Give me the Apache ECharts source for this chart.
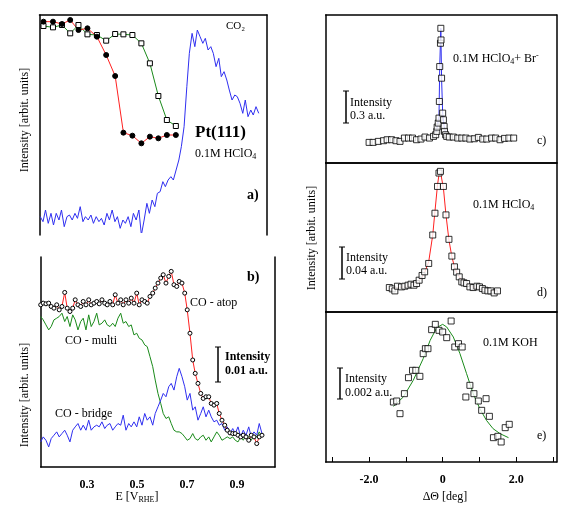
<!DOCTYPE html>
<html><head><meta charset="utf-8">
<script src="https://cdn.jsdelivr.net/npm/echarts@6/dist/echarts.min.js"></script>
<style>html,body{margin:0;background:#fff}#c{width:575px;height:529px}</style>
</head><body><div id="c"></div>
<script>
// panel a: CO2 (blue), CO atop (red dots), CO multi (green squares)
var eA = [.112,.123,.133,.144,.155,.165,.176,.187,.197,.208,.219,.229,.240,.251,.261,.272,.283,.293,.304,.315,.325,.336,.347,.357,.368,.379,.389,.400,.411,.421,.432,.443,.453,.464,.475,.485,.496,.507,.517,.528,.539,.549,.560,.571,.581,.592,.603,.613,.624,.635,.645,.656,.667,.677,.688,.699,.709,.720,.731,.741,.752,.763,.773,.784,.795,.805,.816,.827,.837,.848,.859,.869,.880,.891,.901,.912,.923,.933,.944,.955,.965,.976,.987];
var co2A = [55,40,75,35,65,30,65,45,75,25,55,60,45,65,50,85,40,55,45,60,35,55,40,50,30,65,45,75,40,55,20,45,35,55,25,65,45,75,0,45,95,65,105,85,125,130,160,145,165,175,165,195,225,265,325,445,545,605,565,615,595,575,590,555,565,545,505,530,475,490,465,435,405,420,415,395,365,405,355,375,360,385,365];
var eDots = [.125,.163,.199,.232,.265,.301,.339,.376,.412,.445,.481,.517,.551,.585,.619,.655];
var atopA = [640,640,633,645,615,620,595,540,477,307,298,275,295,290,300,300];
var multiA = [627,623,630,605,630,602,600,583,603,602,600,575,515,417,345,327];

// panel b: IR band intensities
var eB = [.115,.125,.136,.147,.157,.168,.179,.189,.200,.211,.221,.232,.243,.253,.264,.275,.285,.296,.307,.317,.328,.339,.349,.360,.371,.381,.392,.403,.413,.424,.435,.445,.456,.467,.477,.488,.499,.509,.520,.531,.541,.552,.563,.573,.584,.595,.605,.616,.627,.637,.648,.659,.669,.680,.691,.701,.712,.723,.733,.744,.755,.765,.776,.787,.797,.808,.819,.829,.840,.851,.861,.872,.883,.893,.904,.915,.925,.936,.947,.957,.968,.979,.989,1.000];
var atopB = [485,490,488,490,480,475,485,470,480,522,475,465,475,500,485,480,495,485,500,485,490,495,488,500,490,485,495,485,515,490,500,485,500,490,505,490,520,485,500,495,490,510,520,535,550,565,575,550,570,585,545,540,555,550,520,470,400,320,280,250,220,205,210,210,190,185,190,160,140,125,110,102,100,100,95,90,95,90,80,95,90,70,90,95];
var multiB = [450,440,425,410,420,440,445,450,460,435,450,420,455,440,410,435,445,410,455,420,435,460,425,430,440,425,420,430,420,445,460,430,435,420,425,395,400,385,380,365,360,330,300,260,220,190,160,145,150,130,110,105,105,100,90,80,85,100,85,80,90,95,80,90,75,90,105,95,80,85,90,85,90,80,75,90,80,95,90,80,95,90,105,90];
var bridgeB = [75,90,80,60,85,95,105,90,100,110,95,75,110,120,130,110,125,110,140,110,120,125,120,135,115,125,130,110,120,130,125,155,110,130,120,135,120,150,125,160,140,150,125,160,180,200,220,210,240,250,230,270,295,270,240,200,220,170,180,140,160,180,150,170,150,135,140,125,130,110,120,100,115,100,120,90,110,95,120,90,105,95,130,100];

// panel c: 0.1M HClO4 + Br-
var thC = [-2.0,-1.89,-1.75,-1.61,-1.51,-1.39,-1.27,-1.16,-1.04,-0.93,-0.82,-0.71,-0.59,-0.48,-0.36,-0.25,-0.19,-0.16,-0.15,-0.12,-0.10,-0.09,-0.08,-0.06,-0.05,-0.045,-0.03,0,0.02,0.04,0.05,0.08,0.11,0.18,0.29,0.41,0.52,0.63,0.74,0.86,0.97,1.09,1.20,1.33,1.44,1.56,1.68,1.80,1.93];
var intC = [62,62,65,67,70,70,67,65,75,75,75,70,72,78,75,80,85,95,108,120,135,185,290,360,405,370,255,150,130,110,95,85,80,78,78,75,75,75,72,73,77,72,72,75,75,70,74,75,75];
var thCfit = [-0.25,-0.19,-0.15,-0.10,-0.08,-0.05,-0.03,0,0.04,0.08,0.18];
var intCfit = [78,88,108,140,290,405,255,150,110,88,78];

// panel d: 0.1M HClO4
var thD = [-1.45,-1.37,-1.30,-1.23,-1.12,-1.03,-0.94,-0.86,-0.78,-0.71,-0.64,-0.56,-0.49,-0.38,-0.27,-0.21,-0.14,-0.10,-0.06,0.02,0.09,0.17,0.25,0.32,0.38,0.45,0.52,0.58,0.65,0.74,0.83,0.93,1.00,1.08,1.15,1.23,1.31,1.40,1.49];
var intD = [73,69,63,77,75,77,80,83,80,85,95,109,120,145,230,295,375,415,420,375,290,217,167,135,119,105,90,87,85,75,73,77,75,70,65,63,63,57,63];
var intDfit = [70,70,71,72,74,76,78,81,84,88,94,104,118,150,230,300,380,410,418,370,290,215,165,135,118,105,95,89,84,79,75,72,70,68,66,65,64,63,62];

// panel e: 0.1M KOH
var thE = [-1.34,-1.25,-1.16,-1.04,-0.93,-0.82,-0.73,-0.62,-0.53,-0.47,-0.40,-0.30,-0.20,-0.10,0,0.11,0.23,0.33,0.43,0.53,0.63,0.74,0.85,0.97,1.06,1.18,1.27,1.38,1.50,1.59,1.70,1.81];
var intE = [180,183,145,205,253,275,275,257,325,340,340,397,413,395,390,373,423,345,355,345,195,230,205,183,155,190,137,73,77,60,103,113];
var thEfit = [-1.34,-1.07,-0.80,-0.53,-0.34,-0.16,0,0.11,0.29,0.47,0.65,0.83,1.01,1.19,1.37,1.56,1.79];
var intEfit = [167,195,245,310,365,403,413,405,375,325,265,205,160,125,100,85,73];

var chart = echarts.init(document.getElementById('c'));
var F = 'Liberation Serif';
var axLine = {color: '#000', width: 1.5};
var grids = [
  {left: 39.5, top: 15, width: 227.5, height: 220},
  {left: 40.7, top: 257, width: 234.3, height: 210},
  {left: 325.7, top: 15, width: 231, height: 148},
  {left: 325.7, top: 163, width: 231, height: 149},
  {left: 325.7, top: 312, width: 231, height: 150}
];
var xRange = [[0.109, 1.02], [0.115, 1.052], [-3.18, 3.1], [-3.18, 3.1], [-3.18, 3.1]];
var yMax = [660, 628, 445, 445, 450];
var xAxes = [], yAxes = [];
grids.forEach(function (g, i) {
  xAxes.push({type: 'value', gridIndex: i, min: xRange[i][0], max: xRange[i][1],
    position: i == 0 ? 'top' : 'bottom', splitLine: {show: false},
    axisLine: {onZero: false, lineStyle: axLine},
    axisTick: {show: i == 4, inside: true, length: 5, customValues: [-3, -2, -1, 0, 1, 2, 3], lineStyle: {color: '#000'}},
    axisLabel: {show: i == 1 || i == 4, color: '#000', fontFamily: F, fontWeight: 'bold', fontSize: 12, margin: 12,
      customValues: i == 1 ? [0.3, 0.5, 0.7, 0.9] : [-2, 0, 2],
      formatter: function (v) { return (i == 4 && v == 0) ? '0' : v.toFixed(1); }}
  });
  if (i >= 2) {
    xAxes.push({type: 'value', gridIndex: i, min: xRange[i][0], max: xRange[i][1], position: 'top',
      axisLine: {onZero: false, lineStyle: axLine}, axisTick: {show: false}, axisLabel: {show: false}, splitLine: {show: false}});
  }
  ['left', 'right'].forEach(function (p) {
    yAxes.push({type: 'value', gridIndex: i, min: 0, max: yMax[i], position: p,
      axisLine: {show: true, onZero: false, lineStyle: axLine}, axisTick: {show: false},
      axisLabel: {show: false}, splitLine: {show: false}});
  });
});
// first x axis and first y axis of each grid
var xi = [0, 1, 2, 4, 6], yi = [0, 2, 4, 6, 8];
function zip(a, b) { return a.map(function (v, k) { return [v, b[k]]; }); }
function line(g, xs, ys, color, sym, fill, size) {
  return {type: 'line', xAxisIndex: xi[g], yAxisIndex: yi[g], data: zip(xs, ys),
    lineStyle: {color: color, width: 1}, symbol: sym || 'none', symbolSize: size || 5, showSymbol: !!sym,
    itemStyle: {color: fill || '#fff', borderColor: '#000', borderWidth: 1}, z: sym ? 3 : 2};
}
function scat(g, xs, ys) {
  return {type: 'scatter', xAxisIndex: xi[g], yAxisIndex: yi[g], data: zip(xs, ys),
    symbol: 'rect', symbolSize: 6, itemStyle: {color: '#fff', borderColor: '#000', borderWidth: 1}, z: 4};
}
var series = [
  line(0, eA, co2A, '#2f2ff0'),
  line(0, eDots, multiA, '#1a8a1a', 'rect', '#fff', 5),
  line(0, eDots, atopA, '#ff2020', 'circle', '#000', 5),
  line(1, eB, multiB, '#1a8a1a'),
  line(1, eB, bridgeB, '#2f2ff0'),
  line(1, eB, atopB, '#ff2020', 'circle', '#fff', 4),
  line(2, thCfit, intCfit, '#2f2ff0'),
  scat(2, thC, intC),
  line(3, thD, intDfit, '#ff2020'),
  scat(3, thD, intD),
  line(4, thEfit, intEfit, '#1a8a1a'),
  scat(4, thE, intE)
];

function t(x, y, text, size, bold) {
  return {type: 'text', left: x, top: y - (size || 12) / 2 - 1, style: {text: text, font: (bold ? 'bold ' : '') + (size || 12) + 'px ' + F, fill: '#000'}};
}
function rich(x, y, text, rot, align) {
  return {type: 'text', x: x, y: y, rotation: rot || 0, style: {text: text, fill: '#000', align: align || 'center', verticalAlign: 'middle',
    font: '12px ' + F, rich: {s: {fontSize: 8, verticalAlign: 'bottom', padding: [6, 0, 0, 0], fontFamily: F},
      u: {fontSize: 8, padding: [0, 0, 6, 0], fontFamily: F}}}};
}
function seg(x1, y1, x2, y2, w) {
  return {type: 'line', shape: {x1: x1, y1: y1, x2: x2, y2: y2}, style: {stroke: '#000', lineWidth: w || 1.5}};
}
function bar(x, y1, y2) {
  return [seg(x, y1, x, y2, 1.5), seg(x - 3, y1, x + 3, y1, 1), seg(x - 3, y2, x + 3, y2, 1)];
}
var graphic = [
  // gaps in the frame lines of panels a and b
  {type: 'rect', shape: {x: 64, y: 233, width: 190, height: 4}, style: {fill: '#fff'}, z: 100},
  {type: 'rect', shape: {x: 64, y: 255, width: 190, height: 4}, style: {fill: '#fff'}, z: 100},
  t(226, 27, 'CO₂', 11),
  t(195, 134, 'Pt(111)', 17, true),
  rich(195, 154, '0.1M HClO{s|4}', 0, 'left'),
  t(247, 196, 'a)', 14, true),
  t(247, 278, 'b)', 14, true),
  t(190, 304, 'CO - atop', 12),
  t(65, 342, 'CO - multi', 12),
  t(55, 415, 'CO - bridge', 12),
  t(225, 358, 'Intensity', 12, true),
  t(225, 372, '0.01 a.u.', 12, true),
  rich(137, 497, 'E [V{s|RHE}]'),
  rich(25, 120, 'Intensity [arbit. units]', Math.PI / 2),
  rich(25, 395, 'Intensity [arbit. units]', Math.PI / 2),
  rich(312, 238, 'Intensity [arbit. units]', Math.PI / 2),
  rich(453, 59, '0.1M HClO{s|4}+ Br{u|-}', 0, 'left'),
  t(537, 142, 'c)', 12),
  t(350, 104, 'Intensity', 12), t(350, 117, '0.3 a.u.', 12),
  rich(473, 205, '0.1M HClO{s|4}', 0, 'left'),
  t(537, 294, 'd)', 12),
  t(346, 259, 'Intensity', 12), t(346, 272, '0.04 a.u.', 12),
  t(483, 344, '0.1M KOH', 12),
  t(537, 437, 'e)', 12),
  t(345, 380, 'Intensity', 12), t(345, 394, '0.002 a.u.', 12),
  rich(445, 497, 'ΔΘ [deg]')
].concat(bar(218, 347, 382), bar(346, 91, 123), bar(342, 247, 279), bar(340, 368, 399));

chart.setOption({animation: false, grid: grids, xAxis: xAxes, yAxis: yAxes, series: series, graphic: graphic});
</script></body></html>
